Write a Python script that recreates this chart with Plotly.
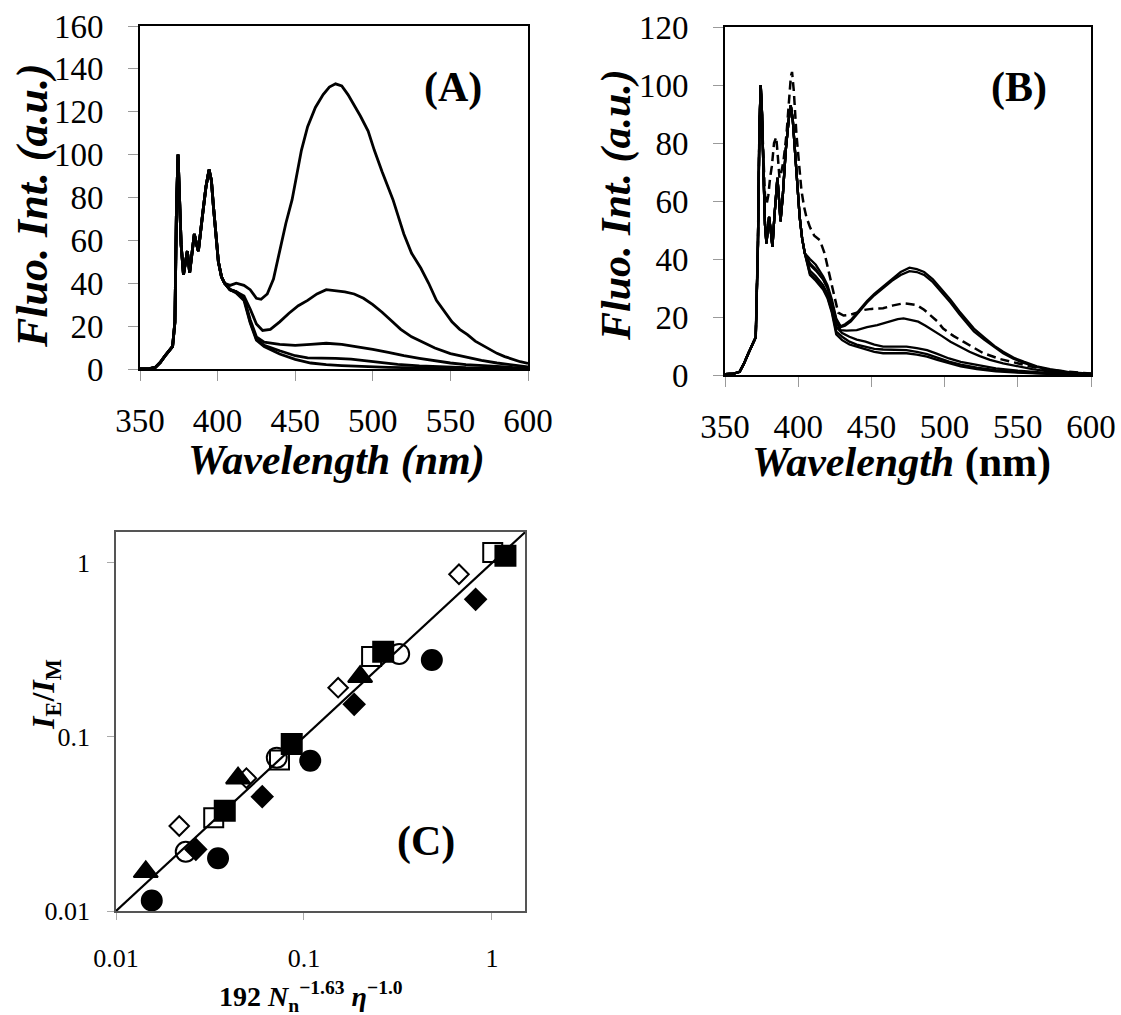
import plotly.graph_objects as go

# ---------------- Panel A data ----------------
a_common_wl = [350, 356, 360, 363, 366, 369, 371, 372.5, 373.5, 374.5, 375.5, 376.5, 378, 380.5, 382, 384, 385,
               386.5, 387.6, 390, 392.5, 394.5, 396, 397.3, 399, 400.5, 402.5, 404.5]
a_common_val = [0, 0.2, 0.8, 3, 6, 8.5, 10.5, 22, 75, 100, 82, 58, 44, 55, 45, 57, 63,
                58, 55, 70, 85, 93, 88, 76, 60, 50, 43, 40]

a1_wl = [408, 412, 417, 421, 425, 428, 432, 436, 440, 444, 448, 451, 454, 458, 463, 468, 472, 476, 480, 484, 488,
         492, 497, 501, 506, 513, 520, 525, 531, 536, 541, 546, 551, 556, 561, 566, 571, 576, 580, 585, 590, 595, 600]
a1_val = [39, 40, 39, 37, 33, 32.5, 35, 42, 55, 68, 79, 90, 102, 113, 122, 128, 131.5, 133, 132, 128, 123,
          118, 111, 102, 92, 79, 63, 54, 47, 40, 32, 27, 22, 18.5, 16, 13, 11, 8.8, 7.3, 5.8, 4.5, 3.4, 2.6]

a2_wl = [408, 412, 417, 421, 425, 429, 434, 440, 446, 452, 458, 464, 470, 476, 482, 488, 494, 500, 506, 512, 518,
         525, 532, 540, 550, 560, 570, 580, 590, 600]
a2_val = [37, 36, 34, 28, 21, 18, 18.5, 22, 26, 29.5, 32, 35, 37, 36.5, 36, 35, 33, 30, 26.5, 22.5, 18.5,
          15, 12.5, 9.8, 7.2, 5.5, 4, 2.8, 1.8, 1]

a3_wl = [408, 412, 417, 421, 425, 430, 440, 450, 460, 470, 480, 490, 500, 510, 520, 530, 540, 550, 560, 575, 590, 600]
a3_val = [37, 36, 33, 23, 15, 12.5, 11.5, 11, 11.5, 12, 11.5, 10.5, 9.2, 7.8, 6.2, 5, 3.8, 2.8, 2, 1.3, 0.8, 0.6]

a4_wl = [408, 412, 417, 421, 425, 430, 440, 450, 458, 466, 476, 486, 496, 506, 516, 530, 545, 560, 580, 600]
a4_val = [37, 36, 33, 22, 14, 11, 8.5, 6.2, 5.2, 5.2, 5, 4.6, 3.8, 3, 2.2, 1.5, 1, 0.6, 0.4, 0.3]

a5_wl = [408, 412, 417, 421, 425, 430, 440, 450, 460, 470, 480, 495, 510, 530, 560, 600]
a5_val = [37, 35.5, 32, 21.5, 13.5, 10.5, 7, 4.5, 2.8, 2, 1.6, 1.1, 0.8, 0.5, 0.2, 0.1]

# ---------------- Panel B data ----------------
b_common_wl = [350, 356, 360, 363, 366, 369, 371, 372.5, 373.5, 374.4, 375.3, 376.3, 377.3, 378.3, 379.3, 380.1,
               381.2, 382.4, 383.8, 385.8, 387, 387.9, 389.5, 391.5, 393.5, 394.9, 396.3, 397.7, 399.3, 401,
               402.7, 404.5]
b_common_val = [0.3, 0.5, 1.1, 4, 7.5, 10.5, 13, 45, 85, 100, 90, 70, 52, 45.4, 50, 54.5,
                50, 44.2, 55, 68, 60, 53, 62, 77.5, 88, 93, 88, 77.5, 65, 54.5,
                47, 42]

b_top_wl = [408, 412, 417, 420, 423, 426, 429, 432, 436, 441, 447, 452, 458, 464, 470, 476, 481, 486, 492, 498,
            504, 510, 515, 520, 527, 534, 540, 547, 554, 563, 572, 586, 600]
b1_val = [40, 38, 34, 31, 26, 19.5, 16.8, 17.5, 19, 22, 25.5, 28, 30.5, 33, 35.5, 37, 36.5, 35.5, 33, 29.5,
          26, 22, 19, 16, 13, 10, 8, 6, 4.6, 3, 2, 0.9, 0.5]
b2_val = [38.5, 36.5, 33, 30, 25, 19, 16.5, 17, 18.5, 21.5, 25, 27.5, 30, 32.5, 34.5, 35.8, 35.5, 34.5, 32, 28.5,
          25, 21, 18, 15, 12.2, 9.5, 7.5, 5.6, 4.2, 2.8, 1.8, 0.8, 0.4]

b4_wl = [408, 412, 417, 420, 423, 426, 429, 433, 440, 447, 454, 462, 468, 472, 477, 482, 487, 492, 498, 504,
         510, 517, 524, 531, 540, 550, 560, 572, 586, 600]
b4_val = [38, 36, 33, 30, 25, 18, 15.5, 15.3, 15.5, 16.5, 17.2, 18.3, 19.3, 19.5, 19, 18.4, 17, 15.5, 13.5, 11.5,
          9.8, 8, 6.5, 5.2, 4, 2.9, 2, 1.2, 0.6, 0.3]

b_low_wl = [408, 412, 417, 420, 423, 426, 430, 435, 440, 446, 452, 458, 465, 474, 481, 488, 495, 503, 511, 522,
            535, 550, 570, 600]
b5_val = [36, 34, 31, 28, 23, 16.5, 14.5, 13.2, 12.2, 11.5, 10.5, 9.8, 9.8, 9.8, 9.3, 8.6, 7.3, 5.7, 4.5, 3.4,
          2.3, 1.5, 0.7, 0.2]
b6_val = [35, 33, 30, 27, 22, 15, 13.2, 11.5, 10.5, 9.8, 9, 8.8, 8.6, 8.6, 8, 7.2, 6, 4.6, 3.6, 2.5,
          1.7, 1, 0.5, 0.1]
b7_val = [34.5, 32.5, 29.5, 26.5, 21.5, 14, 12, 10.5, 9.8, 8.8, 8, 7.5, 7.5, 7.5, 7, 6.3, 5.2, 4, 3, 2,
          1.3, 0.8, 0.4, 0.1]

b_dash_wl = [350, 356, 360, 363, 366, 369, 371, 372.5, 373.5, 374.4, 375.3, 376.3, 377.3, 378.5, 379.6, 380.8,
             382, 383.5, 385, 386, 387.2, 388.5, 390, 392, 393.8, 395, 395.8, 397, 398.8, 400.5, 402.2, 404,
             405.6, 408, 411, 414.8, 418, 421.6, 424.5, 427.3, 431, 435.3, 440, 444.4, 450, 458, 465, 471.8,
             476, 481, 486, 490, 495, 499, 506, 512.8, 520, 526.5, 538, 549.3, 560, 572, 586, 600]
b_dash_val = [0.3, 0.5, 1.1, 4, 7.5, 10.5, 13, 45, 85, 99, 88, 72, 62, 59, 62, 68,
              72, 80, 82, 76, 68, 70, 74, 83, 95, 103, 104.5, 98, 83, 72, 63.7, 58,
              54.5, 51, 48, 46.5, 42, 34, 27, 21.5, 20.5, 20.7, 21.5, 22.4, 22.8, 23, 24, 24.7,
              24.5, 24.1, 22.5, 20.7, 18.5, 16, 13.5, 11.5, 9.5, 7.5, 5.5, 4, 2.8, 1.7, 1, 0.5]

# ---------------- Panel C data ----------------
c_filled_circle_x = [0.0155, 0.0349, 0.108, 0.479]
c_filled_circle_y = [0.0115, 0.0201, 0.0731, 0.277]
c_open_circle_x = [0.0235, 0.0717, 0.321]
c_open_circle_y = [0.0219, 0.076, 0.300]
c_triangle_x = [0.0144, 0.0446, 0.199]
c_triangle_y = [0.0168, 0.058, 0.222]
c_open_square_x = [0.0331, 0.0741, 0.229, 1.01]
c_open_square_y = [0.0344, 0.0738, 0.290, 1.15]
c_filled_square_x = [0.0379, 0.0861, 0.264, 1.18]
c_filled_square_y = [0.0377, 0.0912, 0.309, 1.10]
c_open_diamond_x = [0.0217, 0.0494, 0.152, 0.668]
c_open_diamond_y = [0.0308, 0.058, 0.192, 0.861]
c_filled_diamond_x = [0.0266, 0.060, 0.185, 0.819]
c_filled_diamond_y = [0.0226, 0.0454, 0.154, 0.618]
c_fit_x = [0.01, 1.5]
c_fit_y = [0.01, 1.5]

a_xticks = [350, 400, 450, 500, 550, 600]
a_yticks = [0, 20, 40, 60, 80, 100, 120, 140, 160]
b_yticks = [0, 20, 40, 60, 80, 100, 120]
c_ticks = [0.01, 0.1, 1]
c_ticklabels = ["0.01", "0.1", "1"]

FONT = "Liberation Serif"
W, H = 1121, 1015

fig = go.Figure()

# Panel A
for wl, val in [(a1_wl, a1_val), (a2_wl, a2_val), (a3_wl, a3_val), (a4_wl, a4_val), (a5_wl, a5_val)]:
    fig.add_trace(go.Scatter(x=a_common_wl + wl, y=a_common_val + val, mode="lines",
                             line=dict(color="black", width=2.8), xaxis="x", yaxis="y", showlegend=False))

# Panel B
for wl, val in [(b_low_wl, b7_val), (b_low_wl, b6_val), (b_low_wl, b5_val), (b4_wl, b4_val),
                (b_top_wl, b2_val), (b_top_wl, b1_val)]:
    fig.add_trace(go.Scatter(x=b_common_wl + wl, y=b_common_val + val, mode="lines",
                             line=dict(color="black", width=2.3), xaxis="x2", yaxis="y2", showlegend=False))
fig.add_trace(go.Scatter(x=b_dash_wl, y=b_dash_val, mode="lines",
                         line=dict(color="black", width=2.5, dash="9px,5px"), xaxis="x2", yaxis="y2",
                         showlegend=False))

# Panel C
fig.add_trace(go.Scatter(x=c_fit_x, y=c_fit_y, mode="lines", line=dict(color="black", width=2.2),
                         xaxis="x3", yaxis="y3", showlegend=False))
marker_sets = [
    (c_open_circle_x, c_open_circle_y, "circle-open", 20),
    (c_filled_circle_x, c_filled_circle_y, "circle", 20),
    (c_open_diamond_x, c_open_diamond_y, "diamond-open", 15),
    (c_filled_diamond_x, c_filled_diamond_y, "diamond", 16),
    (c_open_square_x, c_open_square_y, "square-open", 19),
    (c_filled_square_x, c_filled_square_y, "square", 20),
    (c_triangle_x, c_triangle_y, "triangle-up", 21),
]
for xs, ys, sym, sz in marker_sets:
    fig.add_trace(go.Scatter(x=xs, y=ys, mode="markers",
                             marker=dict(symbol=sym, size=sz, color="black", line=dict(color="black", width=2)),
                             xaxis="x3", yaxis="y3", showlegend=False))

tickfont_big = dict(family=FONT, size=33, color="black")
tickfont_small = dict(family=FONT, size=26, color="black")
common_axis = dict(showgrid=False, zeroline=False, ticks="outside", ticklen=10, tickwidth=1.2,
                   tickcolor="#9a9a9a", showline=True, mirror=True, linecolor="black", linewidth=1.6,
                   automargin=False)

fig.update_layout(
    width=W, height=H, margin=dict(l=0, r=0, t=0, b=0, pad=0, autoexpand=False),
    paper_bgcolor="white", plot_bgcolor="white", showlegend=False,
    xaxis=dict(domain=[140 / W, 528 / W], range=[350, 600], tickvals=a_xticks, tickfont=tickfont_big,
               anchor="y", ticklabelstandoff=12, **common_axis),
    yaxis=dict(domain=[1 - 369 / H, 1 - 26 / H], range=[0, 160], tickvals=a_yticks, tickfont=tickfont_big,
               anchor="x", ticklabelstandoff=18, **common_axis),
    xaxis2=dict(domain=[725 / W, 1091 / W], range=[350, 600], tickvals=a_xticks, tickfont=tickfont_big,
                anchor="y2", ticklabelstandoff=12, **common_axis),
    yaxis2=dict(domain=[1 - 375 / H, 1 - 27 / H], range=[0, 120], tickvals=b_yticks, tickfont=tickfont_big,
                anchor="x2", ticklabelstandoff=18, **common_axis),
    xaxis3=dict(domain=[116 / W, 525 / W], type="log", range=[-2, 0.176], tickvals=c_ticks,
                ticktext=c_ticklabels, tickfont=tickfont_small, anchor="y3", ticklabelstandoff=16,
                showgrid=False, zeroline=False, ticks="outside", ticklen=7, tickwidth=1.2, tickcolor="#aaaaaa",
                showline=True, mirror=True, linecolor="#555555", linewidth=1.6, automargin=False),
    yaxis3=dict(domain=[1 - 911 / H, 1 - 532 / H], type="log", range=[-2, 0.178], tickvals=c_ticks,
                ticktext=c_ticklabels, tickfont=tickfont_small, anchor="x3", ticklabelstandoff=12,
                showgrid=False, zeroline=False, ticks="outside", ticklen=7, tickwidth=1.2, tickcolor="#aaaaaa",
                showline=True, mirror=True, linecolor="#555555", linewidth=1.6, automargin=False),
)

def ann(text, x, y, size, angle=0):
    fig.add_annotation(text=text, x=x / W, y=1 - y / H, xref="paper", yref="paper", showarrow=False,
                       textangle=angle, xanchor="center", yanchor="middle",
                       font=dict(family=FONT, size=size, color="black"))

ann("<b><i>Fluo. Int. (a.u.)</i></b>", 32, 206, 44, -90)
ann("<b><i>Wavelength (nm)</i></b>", 336, 460, 42)
ann("<b><i>Fluo. Int. (a.u.)</i></b>", 617, 205, 42, -90)
ann("<b><i>Wavelength</i> (nm)</b>", 901, 462, 42)
ann("<b><i>I</i><sub>E</sub>/<i>I</i><sub>M</sub></b>", 45, 695, 32, -90)
ann("<b>192 <i>N</i><sub>n</sub><sup>−1.63</sup> <i>η</i><sup>−1.0</sup></b>", 311, 996, 28)
ann("<b>(A)</b>", 453, 88, 42)
ann("<b>(B)</b>", 1019, 87, 42)
ann("<b>(C)</b>", 426, 841, 42)

fig.write_html("out.html")
